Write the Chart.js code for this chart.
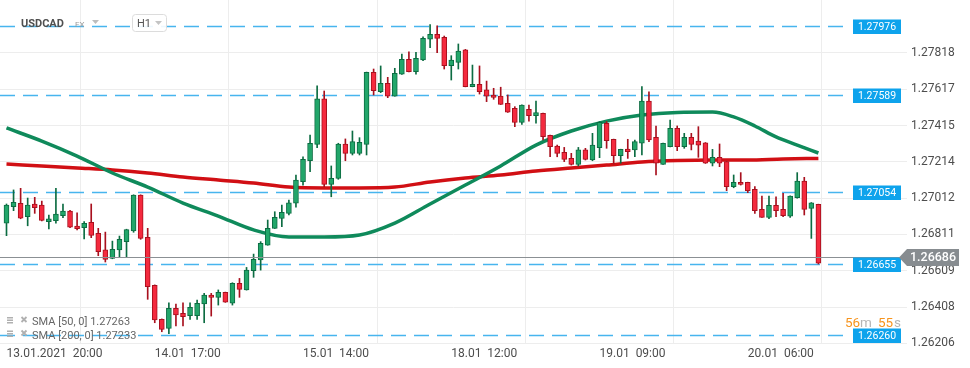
<!DOCTYPE html>
<html><head><meta charset="utf-8">
<script src="https://cdn.jsdelivr.net/npm/chart.js@4/dist/chart.umd.min.js"></script>
<style>html,body{margin:0;padding:0;background:#fff;}#wrap{width:970px;height:368px;position:relative;}</style>
</head><body><div id="wrap"><canvas id="c" width="970" height="368"></canvas></div>
<script>
// ---- data (USDCAD, H1) ----
const symbol = 'USDCAD';
const market = 'FX';
const interval = 'H1';

const open = [1.26873,1.26965,1.26984,1.26909,1.26980,1.26974,1.26882,1.26887,1.26915,1.26941,
1.26858,1.26848,1.26878,1.26817,1.26725,1.26678,1.26725,1.26771,1.26830,1.27030,
1.26795,1.26529,1.26340,1.26290,1.26401,1.26373,1.26360,1.26360,1.26425,1.26475,
1.26462,1.26490,1.26429,1.26540,1.26503,1.26610,1.26669,1.26752,1.26845,1.26900,
1.26928,1.26985,1.27104,1.27220,1.27311,1.27563,1.27089,1.27122,1.27313,1.27261,
1.27261,1.27311,1.27711,1.27603,1.27650,1.27579,1.27700,1.27783,1.27714,1.27779,
1.27894,1.27922,1.27905,1.27747,1.27766,1.27835,1.27631,1.27644,1.27613,1.27585,
1.27579,1.27539,1.27511,1.27433,1.27505,1.27470,1.27483,1.27361,1.27302,1.27267,
1.27233,1.27200,1.27280,1.27224,1.27292,1.27428,1.27339,1.27248,1.27285,1.27280,
1.27317,1.27551,1.27350,1.27200,1.27298,1.27400,1.27298,1.27350,1.27329,1.27320,
1.27206,1.27239,1.27215,1.27076,1.27100,1.27100,1.27061,1.26950,1.26906,1.26973,
1.26950,1.26913,1.27015,1.27107,1.26956,1.26978];
const high = [1.26980,1.27058,1.27067,1.27013,1.27017,1.26996,1.26919,1.27067,1.26980,1.26945,
1.26931,1.26882,1.26980,1.26845,1.26824,1.26774,1.26802,1.26840,1.27031,1.27031,
1.26845,1.26531,1.26342,1.26432,1.26425,1.26432,1.26432,1.26447,1.26484,1.26484,
1.26503,1.26491,1.26543,1.26567,1.26628,1.26702,1.26771,1.26891,1.26937,1.26974,
1.27002,1.27141,1.27242,1.27363,1.27635,1.27607,1.27191,1.27317,1.27341,1.27385,
1.27348,1.27712,1.27729,1.27746,1.27683,1.27733,1.27812,1.27825,1.27822,1.27908,
1.27976,1.27968,1.27912,1.27803,1.27868,1.27838,1.27751,1.27746,1.27662,1.27622,
1.27628,1.27585,1.27520,1.27530,1.27529,1.27551,1.27484,1.27362,1.27307,1.27294,
1.27261,1.27294,1.27289,1.27372,1.27437,1.27437,1.27340,1.27284,1.27339,1.27335,
1.27631,1.27603,1.27413,1.27318,1.27446,1.27413,1.27372,1.27372,1.27409,1.27321,
1.27283,1.27313,1.27216,1.27141,1.27154,1.27101,1.27076,1.27024,1.27024,1.27020,
1.27039,1.27025,1.27154,1.27128,1.26988,1.26979];
const low = [1.26804,1.26943,1.26898,1.26859,1.26928,1.26886,1.26841,1.26873,1.26904,1.26849,
1.26836,1.26786,1.26793,1.26693,1.26658,1.26676,1.26687,1.26687,1.26823,1.26784,
1.26451,1.26321,1.26271,1.26260,1.26304,1.26304,1.26340,1.26340,1.26321,1.26358,
1.26419,1.26434,1.26419,1.26462,1.26502,1.26573,1.26613,1.26751,1.26844,1.26854,
1.26919,1.26963,1.27085,1.27159,1.27292,1.27076,1.27020,1.27117,1.27220,1.27252,
1.27252,1.27252,1.27585,1.27598,1.27570,1.27578,1.27699,1.27713,1.27701,1.27775,
1.27847,1.27820,1.27729,1.27668,1.27729,1.27630,1.27630,1.27590,1.27548,1.27561,
1.27532,1.27488,1.27409,1.27422,1.27440,1.27428,1.27335,1.27242,1.27242,1.27215,
1.27196,1.27191,1.27224,1.27220,1.27237,1.27289,1.27202,1.27206,1.27233,1.27242,
1.27252,1.27326,1.27141,1.27199,1.27297,1.27276,1.27289,1.27280,1.27239,1.27205,
1.27191,1.27187,1.27054,1.27070,1.27085,1.27043,1.26928,1.26905,1.26898,1.26909,
1.26909,1.26906,1.27012,1.26919,1.26789,1.26647];
const close = [1.26974,1.26989,1.26901,1.26974,1.26959,1.26889,1.26897,1.26924,1.26941,1.26851,
1.26843,1.26873,1.26806,1.26715,1.26673,1.26728,1.26784,1.26838,1.27029,1.26789,
1.26521,1.26336,1.26284,1.26401,1.26364,1.26354,1.26407,1.26429,1.26475,1.26462,
1.26490,1.26435,1.26540,1.26506,1.26613,1.26673,1.26762,1.26845,1.26906,1.26934,
1.26987,1.27113,1.27228,1.27317,1.27563,1.27089,1.27122,1.27313,1.27261,1.27326,
1.27322,1.27711,1.27609,1.27650,1.27579,1.27705,1.27783,1.27714,1.27788,1.27899,
1.27922,1.27899,1.27747,1.27779,1.27829,1.27631,1.27644,1.27603,1.27579,1.27572,
1.27533,1.27489,1.27433,1.27529,1.27470,1.27487,1.27353,1.27298,1.27261,1.27228,
1.27200,1.27280,1.27228,1.27307,1.27433,1.27331,1.27248,1.27283,1.27270,1.27326,
1.27551,1.27335,1.27206,1.27317,1.27400,1.27298,1.27350,1.27311,1.27307,1.27206,
1.27239,1.27206,1.27076,1.27100,1.27089,1.27054,1.26943,1.26906,1.26973,1.26943,
1.26915,1.27024,1.27107,1.26950,1.26987,1.26651];

// moving averages read at sample candles
const smaIdx = [0,5,10,15,20,25,30,35,40,45,50,55,60,65,70,75,80,85,90,95,100,103,106,109,112,115];
const sma50  = [1.27402,1.27329,1.27246,1.27152,1.27074,1.26985,1.26913,1.26836,1.26797,1.26797,
1.26808,1.26874,1.26980,1.27085,1.27191,1.27307,1.27385,1.27440,1.27474,1.27488,1.27490,1.27463,
1.27413,1.27352,1.27307,1.27263];
const sma200Idx = [0,5,10,15,20,25,30,35,40,45,50,55,60,65,70,75,80,85,90,95,100,105,110,115];
const sma200 = [1.27202,1.27191,1.27180,1.27169,1.27152,1.27130,1.27113,1.27096,1.27074,1.27069,
1.27069,1.27074,1.27102,1.27124,1.27141,1.27163,1.27180,1.27196,1.27213,1.27221,1.27224,1.27224,
1.27230,1.27233];

const yTicks = [1.26206,1.26408,1.26609,1.26811,1.27012,1.27214,1.27415,1.27617,1.27818];
const xTickIdx = [0,21,42,63,84,105];
const xTickLabels = ['13.01.2021  20:00','14.01  17:00','15.01  14:00','18.01  12:00','19.01  09:00','20.01  06:00'];
const levels = [1.27976,1.27589,1.27054,1.26655,1.26260];
const lastPrice = 1.26686;
const legendNames = ['SMA [50, 0]','SMA [200, 0]'];
const legendValues = [1.27263,1.27233];
const timerParts = ['56','m','55','s'];

// ---- styling ----
const FONT = 'Roboto';
const G_FILL = '#22a66a', G_LINE = '#0c6c42', R_FILL = '#f42a3e', R_LINE = '#a8101e';
const idx = close.map((_, i) => i);
const isUp = idx.map(i => close[i] >= open[i]);
const bodies = idx.map(i => ({x: i, y: [Math.min(open[i], close[i]), Math.max(open[i], close[i])]}));
const wicks = idx.map(i => ({x: i, y: [low[i], high[i]]}));

const overlay = {
  id: 'overlay',
  beforeDatasetsDraw(chart) {
    const {ctx, scales: {y}, chartArea} = chart;
    ctx.save();
    ctx.strokeStyle = '#47b5ee';
    ctx.lineWidth = 1.5;
    ctx.setLineDash([15, 8]);
    levels.forEach(v => {
      const py = Math.round(y.getPixelForValue(v)) + 1.5;
      ctx.beginPath(); ctx.moveTo(chartArea.left, py); ctx.lineTo(846, py); ctx.stroke();
    });
    ctx.restore();
  },
  afterDatasetsDraw(chart) {
    const {ctx, scales: {y}, chartArea} = chart;
    ctx.save();
    // current price line
    const py = Math.round(y.getPixelForValue(lastPrice)) + 0.5;
    ctx.strokeStyle = '#8b9094'; ctx.lineWidth = 1.2;
    ctx.beginPath(); ctx.moveTo(chartArea.left, py); ctx.lineTo(900, py); ctx.stroke();
    // level labels
    ctx.textAlign = 'center'; ctx.textBaseline = 'middle';
    ctx.font = '10.5px ' + FONT;
    levels.forEach(v => {
      const ly = Math.round(y.getPixelForValue(v)) + 1.5;
      ctx.fillStyle = '#0ea3ec';
      ctx.fillRect(853, ly - 7, 48, 14.5);
      ctx.fillStyle = '#ffffff';
      ctx.fillText(v.toFixed(5), 877, ly + 0.5);
    });
    // current price label
    ctx.fillStyle = '#878c90';
    ctx.beginPath();
    ctx.moveTo(899, py); ctx.lineTo(907, py - 8.5); ctx.lineTo(959, py - 8.5);
    ctx.lineTo(959, py + 8.5); ctx.lineTo(907, py + 8.5); ctx.closePath(); ctx.fill();
    ctx.fillStyle = '#fff'; ctx.textAlign = 'center';
    ctx.font = '500 12.5px ' + FONT;
    ctx.fillText(lastPrice.toFixed(5), 933, py + 0.5);
    ctx.textAlign = 'left';
    // timer
    ctx.font = '13.5px ' + FONT; ctx.textBaseline = 'alphabetic';
    const tx = [845, 860, 878, 894];
    timerParts.forEach((t, k) => {
      ctx.fillStyle = (k % 2 === 0) ? '#f7941d' : '#b5b5b5';
      ctx.fillText(t, tx[k], 327);
    });
    // legend
    ctx.font = '11px ' + FONT; ctx.textBaseline = 'middle';
    legendNames.forEach((n, k) => {
      const ly = 322 + k * 13.5;
      ctx.fillStyle = '#b0b0b0';
      ctx.fillRect(7, ly - 5, 6, 1.5); ctx.fillRect(7, ly - 2.5, 6, 1.5); ctx.fillRect(7, ly, 6, 1.5);
      ctx.strokeStyle = '#b0b0b0'; ctx.lineWidth = 1.8;
      ctx.beginPath(); ctx.moveTo(21.5, ly - 5); ctx.lineTo(26.5, ly); ctx.moveTo(26.5, ly - 5); ctx.lineTo(21.5, ly); ctx.stroke();
      ctx.fillStyle = '#666';
      ctx.fillText(n + ' ' + legendValues[k].toFixed(5), 32, ly + 0.5);
    });
    // header
    ctx.textBaseline = 'alphabetic';
    ctx.font = 'bold 11px ' + FONT; ctx.fillStyle = '#4f4f4f';
    ctx.fillText(symbol, 21, 27);
    ctx.font = '8px ' + FONT; ctx.fillStyle = '#9a9a9a';
    ctx.fillText(market, 75, 27);
    ctx.fillStyle = '#bdbdbd';
    ctx.beginPath(); ctx.moveTo(92, 20); ctx.lineTo(99, 20); ctx.lineTo(95.5, 24); ctx.closePath(); ctx.fill();
    ctx.fillStyle = 'rgba(255,255,255,0.9)'; ctx.strokeStyle = '#dcdcdc'; ctx.lineWidth = 1;
    ctx.beginPath(); ctx.roundRect(132.5, 14.5, 34, 17, 3); ctx.fill(); ctx.stroke();
    ctx.font = '11px ' + FONT; ctx.fillStyle = '#555';
    ctx.fillText(interval, 137, 27);
    ctx.fillStyle = '#c4c4c4';
    ctx.beginPath(); ctx.moveTo(155, 21); ctx.lineTo(162, 21); ctx.lineTo(158.5, 25); ctx.closePath(); ctx.fill();
    ctx.restore();
  }
};

new Chart(document.getElementById('c'), {
  type: 'bar',
  data: {
    datasets: [
      {type: 'bar', data: bodies, barThickness: 5, grouped: false, order: 0,
       backgroundColor: idx.map(i => isUp[i] ? G_FILL : R_FILL),
       borderColor: idx.map(i => isUp[i] ? G_LINE : R_LINE),
       borderWidth: 1, borderSkipped: false},
      {type: 'bar', data: wicks, barThickness: 1, grouped: false, order: 1,
       backgroundColor: idx.map(i => isUp[i] ? G_LINE : R_LINE), borderWidth: 0},
      {type: 'line', data: smaIdx.map((x, k) => ({x, y: sma50[k]})), order: 2,
       borderColor: '#0f8a5b', borderWidth: 3.5, pointRadius: 0, cubicInterpolationMode: 'monotone', fill: false},
      {type: 'line', data: sma200Idx.map((x, k) => ({x, y: sma200[k]})), order: 3,
       borderColor: '#d10f14', borderWidth: 3.5, pointRadius: 0, cubicInterpolationMode: 'monotone', fill: false}
    ]
  },
  options: {
    responsive: false, animation: false, devicePixelRatio: 1,
    layout: {padding: 0},
    plugins: {legend: {display: false}, tooltip: {enabled: false}},
    events: [],
    scales: {
      x: {type: 'linear', min: -0.92, max: 127.55, offset: false,
          grid: {color: '#ededed', drawTicks: false}, border: {display: false},
          ticks: {align: 'start', padding: 3, color: '#4d4d4d', maxRotation: 0, autoSkip: false,
                  font: {family: FONT, size: 12}, callback: (v, i) => xTickLabels[i]},
          afterBuildTicks: s => { s.ticks = xTickIdx.map(v => ({value: v})); },
          afterFit: s => { s.height = 24; s.paddingLeft = 0; s.paddingRight = 0; }},
      y: {type: 'linear', position: 'right', min: 1.26203, max: 1.28112,
          grid: {color: '#ededed', drawTicks: false}, border: {display: false},
          ticks: {padding: 4, color: '#4d4d4d', font: {family: FONT, size: 12}, callback: v => v.toFixed(5)},
          afterBuildTicks: s => { s.ticks = yTicks.map(v => ({value: v})); },
          afterFit: s => { s.width = 63; s.paddingTop = 0; s.paddingBottom = 0; }}
    }
  },
  plugins: [overlay]
});
</script>
</body></html>
